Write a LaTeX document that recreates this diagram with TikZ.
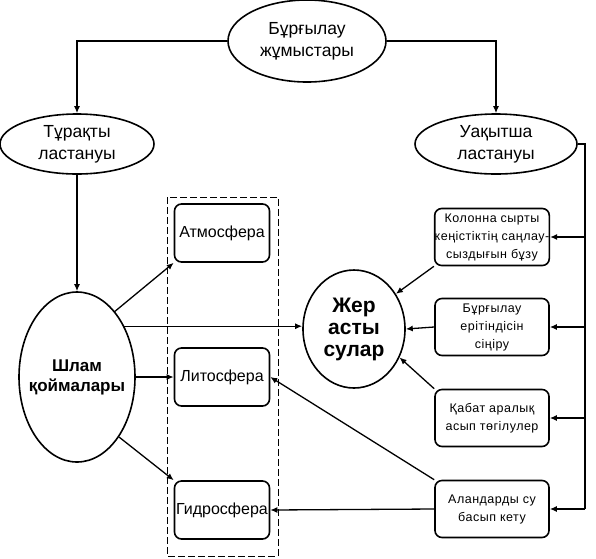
\documentclass[tikz,border=0pt]{standalone}
\usepackage{fontspec}
\setmainfont{Liberation Sans}
\newfontfamily\causefont{Liberation Sans}[LetterSpace=4]
\usetikzlibrary{shapes.geometric,arrows.meta}

\tikzset{
  oval/.style={draw, ellipse, line width=1.6pt, inner sep=0pt, align=center,
    font=\fontsize{17.5}{22}\selectfont},
  sphere/.style={draw, rounded corners=7pt, line width=1.6pt, minimum width=95pt,
    minimum height=58pt, inner sep=0pt, align=center, font=\fontsize{16}{18}\selectfont},
  cause/.style={draw, rounded corners=7pt, line width=1.6pt, minimum width=114pt,
    minimum height=57pt, inner sep=0pt, align=center,
    font=\causefont\fontsize{12.5}{18}\selectfont},
  arr/.style={-{Latex[length=7pt,width=6pt]}, line width=1.3pt},
}

\begin{document}
\begin{tikzpicture}[x=1pt, y=-1pt]
  \useasboundingbox (0,0) rectangle (596,558);

  % Ellipses
  \node[oval, minimum width=158pt, minimum height=82pt] (top) at (307,41) {Бұрғылау\\жұмыстары};
  \node[oval, minimum width=154pt, minimum height=60pt] (tur) at (77,144) {Тұрақты\\ластануы};
  \node[oval, minimum width=162pt, minimum height=60pt] (uaq) at (496,144) {Уақытша\\ластануы};
  \node[oval, inner sep=-12pt, minimum width=116pt, minimum height=170pt,
    font=\bfseries\fontsize{17}{20}\selectfont] (shlam) at (77,377) {Шлам\\қоймалары};
  \node[oval, inner sep=-6pt, minimum width=102pt, minimum height=118pt,
    font=\bfseries\fontsize{21}{22}\selectfont] (jer) at (354,329) {Жер\\асты\\сулар};

  % Dashed frame round the spheres
  \draw[dash pattern=on 7pt off 3pt, line width=0.8pt] (167,197) rectangle (278,556);

  % Spheres
  \node[sphere] (atm) at (222,233) {Атмосфера};
  \node[sphere] (lit) at (222,377) {Литосфера};
  \node[sphere] (hyd) at (222,510) {Гидросфера};

  % Causes
  \node[cause] (kol) at (492,237) {Колонна сырты\\кеңістіктің саңлау-\\сыздығын бұзу};
  \node[cause] (bur) at (492,327) {Бұрғылау\\ерітіндісін\\сіңіру};
  \node[cause] (qab) at (492,418) {Қабат аралық\\асып төгілулер};
  \node[cause] (alan) at (492,509) {Аландарды су\\басып кету};

  % Connectors
  \draw[arr] (top.west) -| (tur.north);
  \draw[arr] (top.east) -| (uaq.north);
  \draw[arr] (tur.south) -- (shlam.north);

  \draw[arr] (shlam.60) -- (atm.south west);
  \draw[arr] (shlam.east) -- (lit.west);
  \draw[arr] (shlam.-55) -- (hyd.north west);
  \draw[arr] (shlam.47) -- (shlam.47 -| jer.west);

  \coordinate (bus) at (585,509);
  \draw[line width=1.3pt] (uaq.east) -| (bus);
  \foreach \n in {kol,bur,qab,alan}
    \draw[arr] (bus |- \n.east) -- (\n.east);

  \draw[arr] (kol.south west) -- (jer.40);
  \draw[arr] (bur.west) -- (jer.east);
  \draw[arr] (qab.north west) -- (jer.-32);
  \draw[arr] (alan.north west) -- (lit.east);
  \draw[arr] (alan.west) -- (hyd.east);
\end{tikzpicture}
\end{document}
